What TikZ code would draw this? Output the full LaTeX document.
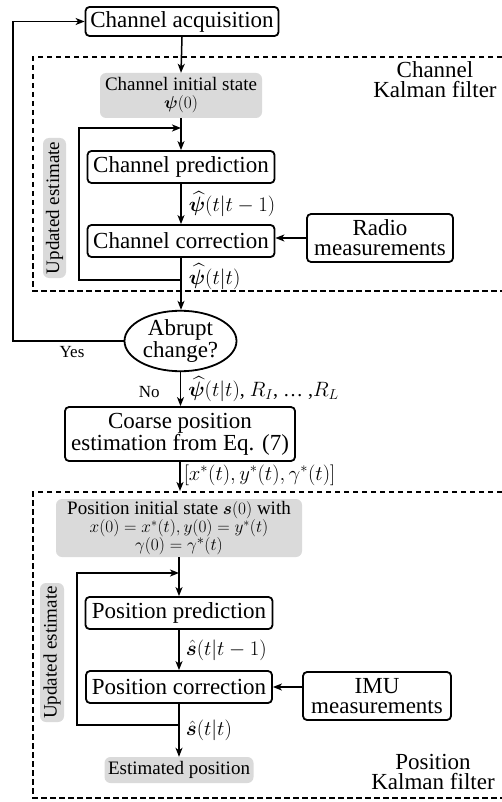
\documentclass[tikz,border=0pt]{standalone}
\usepackage{amsmath,bm}
\usepackage{fontspec}
\setmainfont{Liberation Serif}
\usetikzlibrary{arrows.meta,shapes.geometric}
\definecolor{boxgray}{RGB}{218,218,218}
\tikzset{
  box/.style={draw, rounded corners=4pt, line width=1.8pt, inner sep=0pt, align=center,
    font=\fontsize{23}{20}\selectfont},
  graybox/.style={fill=boxgray, rounded corners=6pt, inner sep=0pt, align=center,
    font=\fontsize{19}{18}\selectfont},
  conn/.style={-{Stealth[length=9pt,width=7pt,inset=2.5pt]}, line width=1.5pt},
  plainline/.style={line width=1.5pt},
  frame/.style={line width=1.8pt, dash pattern=on 5.5pt off 3.5pt},
  lbl/.style={font=\fontsize{20}{20}\selectfont, inner sep=2pt},
  small/.style={font=\fontsize{17}{17}\selectfont, inner sep=0pt},
  title/.style={font=\fontsize{23}{19.5}\selectfont, align=center, inner sep=0pt},
}
\begin{document}
\begin{tikzpicture}[x=1pt,y=-1pt]
\useasboundingbox (0,0) rectangle (502,802);
\clip (0,0) rectangle (502,802);

% dashed frames
\draw[frame] (520,57) -- (33,57) -- (33,291) -- (520,291);
\draw[frame] (520,492) -- (33,492) -- (33,798) -- (520,798);
\node[title] (chtitle) at (435,79.5) {Channel\\Kalman filter};
\node[title] (pstitle) at (433,772) {Position\\Kalman filter};

% channel part
\node[box, minimum width=193pt, minimum height=29pt] (acq) at (182,21.5) {Channel acquisition};
\node[graybox, minimum width=162pt, minimum height=45pt] (chinit) at (181,95.5) {Channel initial state\\$\bm{\psi}(0)$};
\node[box, minimum width=187pt, minimum height=32pt] (pred) at (181,167) {Channel prediction};
\node[box, minimum width=187pt, minimum height=32pt] (corr) at (181,241) {Channel correction};
\node[box, minimum width=146pt, minimum height=48pt] (radio) at (380,238) {Radio\\measurements};
\node[graybox, rotate=90, minimum width=140pt, minimum height=23pt] (upd1) at (54.5,208) {Updated estimate};
\node[draw, ellipse, line width=1.8pt, inner sep=0pt, minimum width=112pt, minimum height=56pt,
  align=center, font=\fontsize{23}{20}\selectfont] (ell) at (180.5,341) {Abrupt\\change?};

% position part
\node[box, minimum width=230pt, minimum height=54pt] (coarse) at (180,434) {Coarse position\\estimation from Eq. (7)};
\node[graybox, minimum width=246pt, minimum height=58pt] (pinit) at (179,528)
  {Position initial state $\bm{s}(0)$ with\\
   \fontsize{17}{16}\selectfont $x(0)=x^*(t), y(0)=y^*(t)$\\ $\gamma(0)=\gamma^*(t)$};
\node[box, minimum width=187pt, minimum height=32pt] (ppred) at (179,613) {Position prediction};
\node[box, minimum width=186pt, minimum height=32pt] (pcorr) at (179,687) {Position correction};
\node[box, minimum width=148pt, minimum height=48pt] (imu) at (377,696) {IMU\\measurements};
\node[graybox, minimum width=149pt, minimum height=26pt] (est) at (179,770) {Estimated position};
\node[graybox, rotate=90, minimum width=139pt, minimum height=24pt] (upd2) at (52,652.5) {Updated estimate};

% coordinates
\coordinate (j1) at (181,280);
\coordinate (k1) at (181,128);
\coordinate (l1) at (79,200);
\coordinate (yl) at (13,180);
\coordinate (pk) at (179,491);
\coordinate (j2) at (179,725);
\coordinate (k2) at (179,573);
\coordinate (l2) at (77,650);

% connectors channel
\draw[conn] (ell.west) -| (yl) |- (acq.west);
\node[small] (yes) at (72,352) {Yes};
\draw[conn] (acq.south) -- (chinit.north);
\draw[conn] (chinit.south) -- (pred.north);
\draw[plainline] (j1) -| (l1);
\draw[conn] (l1) |- (k1);
\draw[conn] (pred.south) -- node[lbl, right, xshift=5pt] (l_pred) {$\widehat{\bm{\psi}}(t|t-1)$} (corr.north);
\draw[conn] (radio.west) -- (radio.west -| corr.east);
\draw[conn] (corr.south) -- node[lbl, right, pos=0.36, xshift=5pt] (l_corr) {$\widehat{\bm{\psi}}(t|t)$} (corr.south |- ell.north);
\draw[conn] (ell.south) -- node[lbl, right, xshift=5pt] (l_no) {$\widehat{\bm{\psi}}(t|t)$, $R_I$, \ldots\ ,$R_L$}
  node[small, left, xshift=-20pt, yshift=-3pt] (no) {No} (ell.south |- coarse.north);
\draw[conn] (coarse.south) -- node[lbl, right, pos=0.45, inner sep=1pt, xshift=2pt] (l_coarse) {$[x^*(t), y^*(t), \gamma^*(t)]$} (coarse.south |- pk);

% connectors position
\draw[conn] (pinit.south) -- (ppred.north);
\draw[plainline] (j2) -| (l2);
\draw[conn] (l2) |- (k2);
\draw[conn] (ppred.south) -- node[lbl, right, xshift=4pt] (l_ppred) {$\hat{\bm{s}}(t|t-1)$} (pcorr.north);
\draw[conn] (imu.west |- pcorr.east) -- (pcorr.east);
\draw[conn] (pcorr.south) -- node[lbl, right, xshift=4pt] (l_pcorr) {$\hat{\bm{s}}(t|t)$} (est.north);
\end{tikzpicture}
\end{document}
